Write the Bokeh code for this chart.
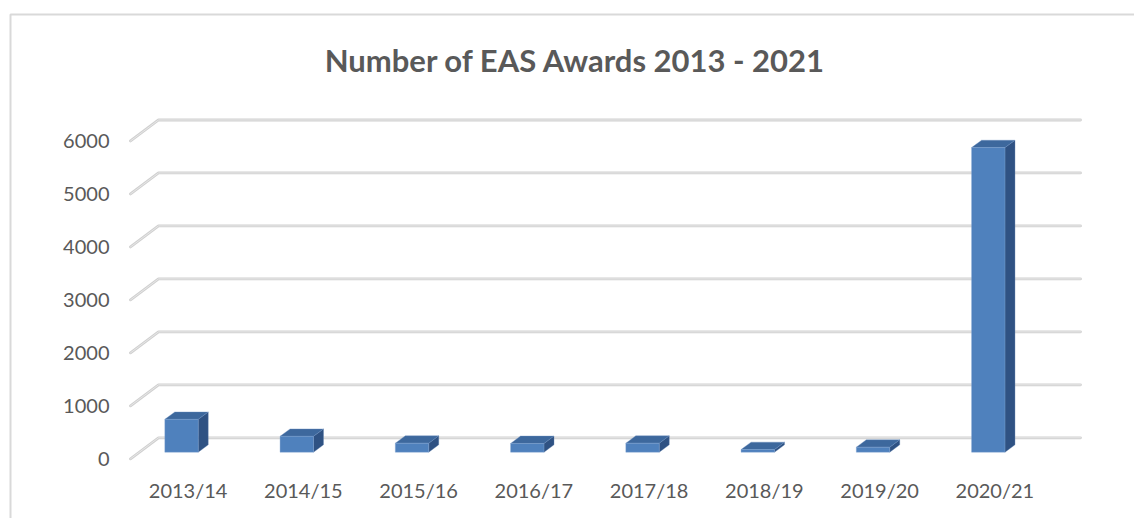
from bokeh.plotting import figure
from bokeh.models import Range1d
from bokeh.core.properties import value
from bokeh.embed import file_html
from bokeh.resources import INLINE

# ---- data ----
categories = ["2013/14", "2014/15", "2015/16", "2016/17", "2017/18", "2018/19", "2019/20", "2020/21"]
awards = [620, 300, 170, 165, 170, 50, 95, 5750]
y_ticks = [0, 1000, 2000, 3000, 4000, 5000, 6000]
y_tick_labels = ["0", "1000", "2000", "3000", "4000", "5000", "6000"]
title_text = "Number of EAS Awards 2013 - 2021"

# ---- layout (pixel geometry of the page) ----
W, H = 1134, 518
CAT_PX = 115.25          # pixels per category
X0_PX = 130.0            # front-left floor corner
V0_PX = 437.3            # back-wall zero line
PX_PER_V = 0.05297       # pixels per unit value


def px_to_x(px):
    return (px - X0_PX) / CAT_PX - 0.5


def px_to_v(py):
    return (V0_PX - py) / PX_PER_V


# wall depth (oblique offset)
G_DX = 28 / CAT_PX
G_DV = 21 / PX_PER_V
# bar geometry
B_OFF = -6.6 / CAT_PX
B_W = 33.4 / CAT_PX
B_DX = 10 / CAT_PX
B_DV = 7.4 / PX_PER_V
B_BASE = px_to_v(451.7)

FONT = "Lato"
TXT = "#595959"
GRID = "#d0d0d0"
FRONT = "#4f81bd"
TOP = "#3d689d"
SIDE = "#2f5283"

p = figure(width=W, height=H, output_backend="svg", toolbar_location=None,
           x_axis_location=None, y_axis_location=None,
           x_range=Range1d(px_to_x(0), px_to_x(W)),
           y_range=Range1d(px_to_v(H), px_to_v(0)),
           min_border=0, outline_line_color=None,
           background_fill_color="white", border_fill_color="white")
p.xgrid.visible = False
p.ygrid.visible = False

# chart frame (top and left edges)
p.line([px_to_x(10), px_to_x(10), px_to_x(W + 5)],
       [px_to_v(H + 5), px_to_v(14), px_to_v(14)],
       line_color="#d9d9d9", line_width=2)

# gridlines: diagonal on the left side wall + back wall line
x_front = px_to_x(X0_PX)
x_back = x_front + G_DX
x_end = px_to_x(1080)
gxs = [[x_front, x_back, x_end] for v in y_ticks]
gys = [[v - G_DV, v, v] for v in y_ticks]
p.multi_line(gxs, gys, line_color=GRID, line_width=2.8, line_join="round", line_cap="round")
p.multi_line(gxs, gys, line_color="#ececec", line_width=0.8, line_join="round", line_cap="round")

# y tick labels
p.text(x=[px_to_x(109)] * len(y_ticks), y=[v - G_DV for v in y_ticks], text=y_tick_labels,
       text_font=value(FONT), text_font_size="20px", text_color=TXT,
       text_align="right", text_baseline="middle")

# bars (pseudo-3D)
idx = list(range(len(categories)))
left = [i + B_OFF - B_W / 2 for i in idx]
right = [i + B_OFF + B_W / 2 for i in idx]
bottom = [B_BASE] * len(idx)
top = [B_BASE + a for a in awards]

top_xs = [[l, r, r + B_DX, l + B_DX] for l, r in zip(left, right)]
top_ys = [[t, t, t + B_DV, t + B_DV] for t in top]
side_xs = [[r, r + B_DX, r + B_DX, r] for r in right]
side_ys = [[B_BASE, B_BASE + B_DV, t + B_DV, t] for t in top]

p.patches(side_xs, side_ys, fill_color=SIDE, line_color="#5a7fae", line_width=0.6, line_alpha=0.6)
p.patches(top_xs, top_ys, fill_color=TOP, line_color="#6a8fc0", line_width=0.6, line_alpha=0.6)
p.quad(left=left, right=right, bottom=bottom, top=top, fill_color=FRONT,
       line_color="#7ea3d2", line_width=0.6, line_alpha=0.6)

# category labels
p.text(x=idx, y=[px_to_v(489)] * len(idx), text=categories,
       text_font=value(FONT), text_font_size="20px", text_color=TXT,
       text_align="center", text_baseline="middle")

# title
p.text(x=[px_to_x(575)], y=[px_to_v(59)], text=[title_text],
       text_font=value(FONT), text_font_size="31px", text_font_style="bold",
       text_color=TXT, text_align="center", text_baseline="middle")

open("out.html", "w").write(file_html(p, INLINE))
